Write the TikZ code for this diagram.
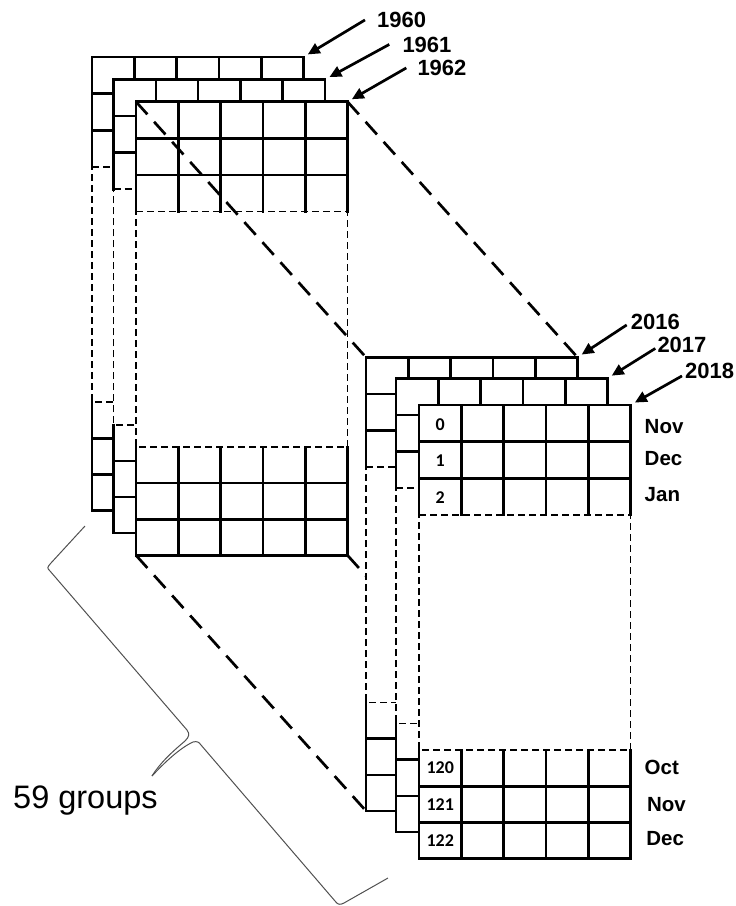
\documentclass[tikz,border=0pt]{standalone}
\usepackage{fontspec}
\setmainfont{Liberation Sans}
\newfontfamily\cellfont{Carlito}
\usetikzlibrary{arrows.meta, calc}
\definecolor{gridblack}{HTML}{000000}
\definecolor{bracegray}{HTML}{505050}
\tikzset{
  cellline/.style    = {draw=gridblack, line width=2.6pt, line cap=rect},
  celldash/.style    = {draw=gridblack, line width=1.7pt,
                        dash pattern=on 7pt off 4pt},
  linkdash/.style    = {draw=gridblack, line width=2.7pt,
                        dash pattern=on 17pt off 10pt},
  yeararrow/.style   = {draw=gridblack, line width=2.7pt, shorten >=5pt,
                        -{Triangle[length=12pt, width=11pt]}},
  yearlabel/.style   = {font=\fontsize{22}{26}\selectfont\bfseries,
                        inner sep=0pt, anchor=base west},
  monthlabel/.style  = {font=\fontsize{20.5}{24}\selectfont\bfseries,
                        inner sep=0pt, anchor=base west},
  cellnum/.style     = {font=\cellfont\fontsize{18}{20}\selectfont\bfseries,
                        inner sep=0pt},
  bracecurve/.style  = {draw=bracegray, line width=1pt, line join=round},
  groupslabel/.style = {font=\fontsize{32.5}{36}\selectfont,
                        inner sep=0pt, anchor=base west},
}
% one year: 3 rows, skipped months, 3 rows
\newcommand{\gridlayer}[3]{%
  \begin{scope}[shift={(#2,#3)}]
    \fill[white] (0,0) rectangle (211.5,453.6);
    \foreach \i in {0,...,5}
      \draw[cellline] (\i*42.3,0) -- (\i*42.3,109.8);
    \foreach \j in {0,1,2}
      \draw[cellline] (0,\j*36.6) -- (211.5,\j*36.6);
    \draw[celldash] (0,109.8) -- (211.5,109.8) -- (211.5,345.3)
      -- (0,345.3) -- cycle;
    \foreach \i in {0,...,5}
      \draw[cellline] (\i*42.3,345.3) -- (\i*42.3,453.6);
    \foreach \j in {1,2,3}
      \draw[cellline] (0,345.3+\j*36.1) -- (211.5,345.3+\j*36.1);
    \coordinate (#1tl) at (0,0);
    \coordinate (#1tr) at (211.5,0);
    \coordinate (#1bl) at (0,453.6);
    \coordinate (#1br) at (211.5,453.6);
  \end{scope}}

\begin{document}
\begin{tikzpicture}[x=1pt, y=-1pt]
    \useasboundingbox (0,0) rectangle (736,906);
    % corners of the 2016 sheet, needed before it is drawn
    \coordinate (R0tl) at (366,357.3);
    \coordinate (R0tr) at (577.5,357.3);
    \coordinate (R0bl) at (366,810.9);
    \coordinate (R0br) at (577.5,810.9);
    % first group
    \gridlayer{L0}{92}{57}
    \gridlayer{L1}{113.5}{79.5}
    \gridlayer{L2}{136}{101.7}
    \draw[linkdash] (L2tl) -- (R0tl);
    \draw[linkdash] (L2tr) -- (R0tr);
    \draw[linkdash] (L2bl) -- (R0bl);
    \draw[linkdash] (L2br) -- (R0br);
    % last group
    \gridlayer{R0}{366}{357.3}
    \gridlayer{R1}{396}{378.3}
    \gridlayer{R2}{419}{405}

    \node[yearlabel] (y1960) at (377,27.5) {1960};
    \node[yearlabel] (y1961) at (402.3,52) {1961};
    \node[yearlabel] (y1962) at (417.3,75.5) {1962};
    \node[yearlabel] (y2016) at (630.7,329.5) {2016};
    \node[yearlabel] (y2017) at (657.3,352) {2017};
    \node[yearlabel] (y2018) at (685,378.5) {2018};
    \draw[yeararrow] ([xshift=-12pt]y1960.west) -- (L0tr);
    \draw[yeararrow] ([xshift=-13pt]y1961.west) -- (L1tr);
    \draw[yeararrow] ([xshift=-11pt]y1962.west) -- (L2tr);
    \draw[yeararrow] ([xshift=-4pt, yshift=-3pt]y2016.west) -- (R0tr);
    \draw[yeararrow] ([xshift=-2pt, yshift=-4pt]y2017.west) -- (R1tr);
    \draw[yeararrow] ([xshift=-3pt, yshift=-5pt]y2018.west) -- (R2tr);

    \node[cellnum] (n0) at (440.2,424.3) {0};
    \node[cellnum] (n1) at (440.2,460.9) {1};
    \node[cellnum] (n2) at (440.2,497.5) {2};
    \node[cellnum] (n120) at (440.2,767.4) {120};
    \node[cellnum] (n121) at (440.2,804.5) {121};
    \node[cellnum] (n122) at (440.2,840.6) {122};

    \node[monthlabel] (mnov) at (644.5,433.3) {Nov};
    \node[monthlabel] (mdec) at (644.5,465) {Dec};
    \node[monthlabel] (mjan) at (644.5,501.7) {Jan};
    \node[monthlabel] (moct) at (644.5,774.3) {Oct};
    \node[monthlabel] (mnov2) at (646.8,811.7) {Nov};
    \node[monthlabel] (mdec2) at (646.2,845) {Dec};

    % brace over the groups
    \draw[bracecurve] (85,526) -- (51,563) .. controls (47,567.5) and (47,568)
      .. (50,571) -- (187,730) .. controls (190,734) and (189,737) .. (185,741)
      .. controls (172,752) and (160,763) .. (152,776);
    \draw[bracecurve] (152,776) .. controls (165,762) and (180,748) .. (193,742)
      .. controls (197,741) and (199,742) .. (201,745) -- (335,901)
      .. controls (338,905) and (340,905) .. (344,903) -- (388,878);
    \node[groupslabel] (groups) at (13,808) {59 groups};
\end{tikzpicture}
\end{document}
